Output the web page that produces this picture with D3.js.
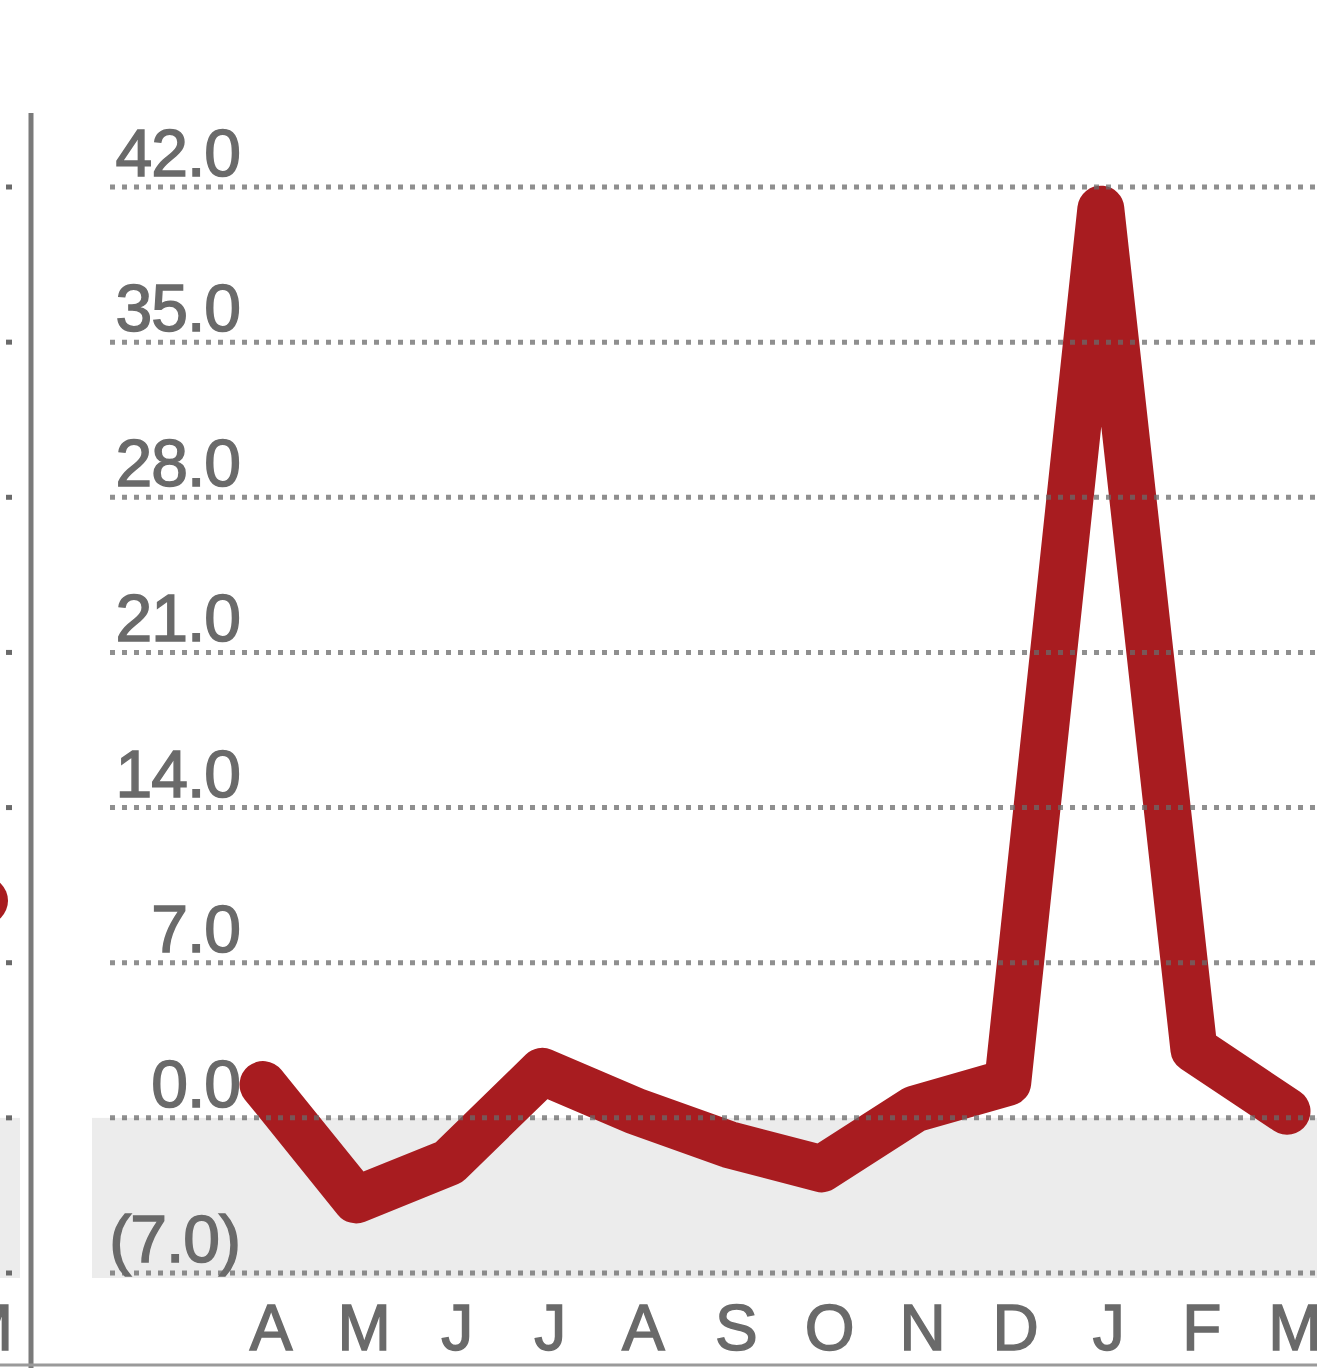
<!DOCTYPE html>
<html>
<head>
<meta charset="utf-8">
<script src="https://cdn.jsdelivr.net/npm/d3@7"></script>
<style>
  body { margin: 0; background: #fff; }
  svg { display: block; }
</style>
</head>
<body>
<script>
var width = 1317,
    height = 1368;

// data
var months = ["A", "M", "J", "J", "A", "S", "O", "N", "D", "J", "F", "M"];
var values = [1.5, -3.7, -2.0, 2.1, 0.3, -1.2, -2.3, 0.4, 1.6, 41.0, 3.1, 0.3];
var yTicks = [42, 35, 28, 21, 14, 7, 0, -7];
// last point of the neighbouring panel, cut off at the left edge
var prevMonth = ["M"];
var prevValue = [9.8];

var svg = d3.select("body").append("svg")
    .attr("width", width)
    .attr("height", height);

var x = d3.scalePoint()
    .domain(d3.range(months.length))
    .range([263, 1287]);

var y = d3.scaleLinear()
    .domain([-7, 42])
    .range([1273, 187]);

var red = "#a81c20",
    grey = "#6a6a6a",
    font = "Liberation Sans, Arial, sans-serif";

// shaded band below zero
svg.append("rect")
    .attr("x", 92)
    .attr("y", y(0))
    .attr("width", width - 92)
    .attr("height", y(-7) - y(0) + 5)
    .attr("fill", "#ececec");
svg.append("rect")
    .attr("x", 0)
    .attr("y", y(0))
    .attr("width", 20)
    .attr("height", y(-7) - y(0) + 5)
    .attr("fill", "#ececec");

// previous panel remnants
svg.selectAll("circle.prev")
    .data(prevValue)
    .enter().append("circle")
    .attr("class", "prev")
    .attr("cx", -16)
    .attr("cy", function(d) { return y(d); })
    .attr("r", 24)
    .attr("fill", red);

svg.selectAll("text.prev")
    .data(prevMonth)
    .enter().append("text")
    .attr("class", "prev")
    .attr("x", 13)
    .attr("y", 1350)
    .attr("text-anchor", "end")
    .attr("font-family", font)
    .attr("font-size", 64)
    .attr("fill", grey)
    .attr("stroke", grey)
    .attr("stroke-width", 1.5)
    .text(function(d) { return d; });

// the line
var line = d3.line()
    .x(function(d, i) { return x(i); })
    .y(function(d) { return y(d); });

svg.append("path")
    .attr("d", line(values))
    .attr("fill", "none")
    .attr("stroke", red)
    .attr("stroke-width", 47)
    .attr("stroke-linejoin", "round")
    .attr("stroke-linecap", "round");

// dotted gridlines on top of the line
svg.selectAll("line.grid")
    .data(yTicks)
    .enter().append("line")
    .attr("class", "grid")
    .attr("x1", 110)
    .attr("x2", width)
    .attr("y1", function(d) { return y(d); })
    .attr("y2", function(d) { return y(d); })
    .attr("stroke", "#6a6a6a")
    .attr("stroke-opacity", 0.75)
    .attr("stroke-width", 5)
    .attr("stroke-dasharray", "5,7");

svg.selectAll("line.prevgrid")
    .data(yTicks)
    .enter().append("line")
    .attr("class", "prevgrid")
    .attr("x1", 6)
    .attr("x2", 12)
    .attr("y1", function(d) { return y(d); })
    .attr("y2", function(d) { return y(d); })
    .attr("stroke", "#6a6a6a")
    .attr("stroke-width", 5);

// y labels
svg.selectAll("text.ylab")
    .data(yTicks)
    .enter().append("text")
    .attr("class", "ylab")
    .attr("x", 240)
    .attr("y", function(d) { return y(d) - 11; })
    .attr("text-anchor", "end")
    .attr("font-family", font)
    .attr("font-size", 66)
    .attr("fill", grey)
    .attr("stroke", grey)
    .attr("stroke-width", 1.5)
    .attr("letter-spacing", -1)
    .text(function(d) {
        return d < 0 ? "(" + d3.format(".1f")(-d) + ")" : d3.format(".1f")(d);
    });

// x labels
svg.selectAll("text.xlab")
    .data(months)
    .enter().append("text")
    .attr("class", "xlab")
    .attr("x", function(d, i) { return x(i) + 8; })
    .attr("y", 1350)
    .attr("text-anchor", "middle")
    .attr("font-family", font)
    .attr("font-size", 64)
    .attr("fill", grey)
    .attr("stroke", grey)
    .attr("stroke-width", 1.5)
    .text(function(d) { return d; });

// panel separator and bottom rule
svg.append("line")
    .attr("x1", 31).attr("x2", 31)
    .attr("y1", 113).attr("y2", height)
    .attr("stroke", "#7a7a7a")
    .attr("stroke-width", 5);

svg.append("line")
    .attr("x1", 0).attr("x2", width)
    .attr("y1", 1365).attr("y2", 1365)
    .attr("stroke", "#9a9a9a")
    .attr("stroke-width", 3);
</script>
</body>
</html>
